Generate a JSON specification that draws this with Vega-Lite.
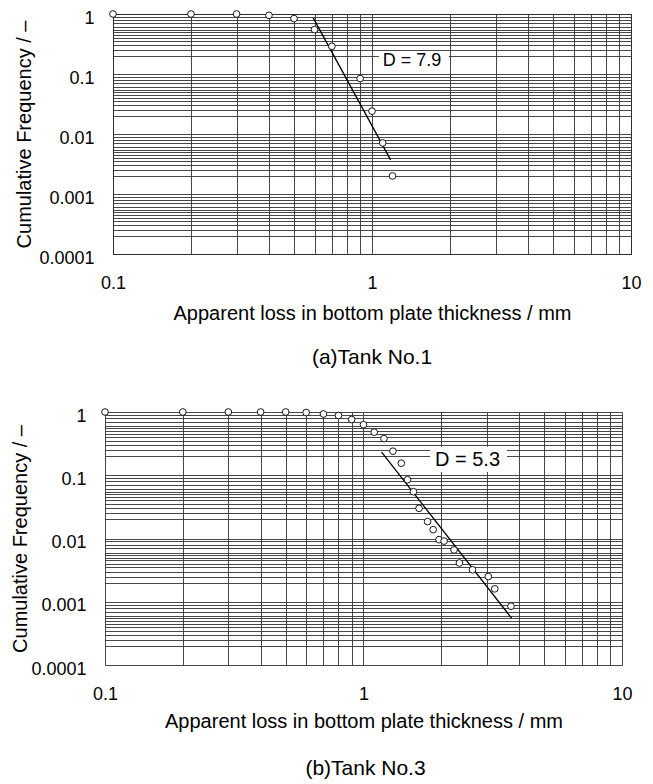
{
  "$schema": "https://vega.github.io/schema/vega-lite/v6.json",
  "padding": {"left": 10, "top": 8, "right": 5, "bottom": 5},
  "columns": 1,
  "spacing": 37,
  "config": {
    "font": "Liberation Sans",
    "view": {"stroke": "#000", "strokeWidth": 1},
    "axis": {
      "grid": true, "gridColor": "#333", "gridWidth": 0.9, "gridOpacity": 1,
      "domain": false, "ticks": false, "labelOverlap": false, "labelFlush": false,
      "labelFontSize": 18, "labelColor": "#000", "titleColor": "#000",
      "titleFontSize": 20, "titleFontWeight": "normal", "labelBound": false
    },
    "title": {"fontSize": 21, "fontWeight": "normal", "color": "#000"}
  },
  "datasets": {
    "pts1": [
      {"x": 0.1, "y": 1}, {"x": 0.2, "y": 1}, {"x": 0.3, "y": 1}, {"x": 0.4, "y": 0.95},
      {"x": 0.5, "y": 0.84}, {"x": 0.6, "y": 0.55}, {"x": 0.7, "y": 0.29}, {"x": 0.9, "y": 0.084},
      {"x": 1.0, "y": 0.024}, {"x": 1.1, "y": 0.0071}, {"x": 1.2, "y": 0.002}
    ],
    "fit1": [{"x": 0.593, "y": 0.86}, {"x": 1.18, "y": 0.0037}],
    "lab1": [{"x": 1.1, "y": 0.163, "text": "D = 7.9", "x2": 1.98, "y1": 0.239, "y2": 0.103, "x1": 1.064}],
    "pts2": [
      {"x": 0.1, "y": 1}, {"x": 0.2, "y": 1}, {"x": 0.3, "y": 1}, {"x": 0.4, "y": 1},
      {"x": 0.5, "y": 1}, {"x": 0.6, "y": 0.98}, {"x": 0.7, "y": 0.93}, {"x": 0.8, "y": 0.88},
      {"x": 0.9, "y": 0.76}, {"x": 1.0, "y": 0.63}, {"x": 1.1, "y": 0.48}, {"x": 1.2, "y": 0.38},
      {"x": 1.3, "y": 0.24}, {"x": 1.4, "y": 0.155}, {"x": 1.48, "y": 0.085}, {"x": 1.56, "y": 0.055},
      {"x": 1.64, "y": 0.03}, {"x": 1.77, "y": 0.0185}, {"x": 1.86, "y": 0.0138}, {"x": 1.96, "y": 0.0096},
      {"x": 2.05, "y": 0.0091}, {"x": 2.24, "y": 0.0066}, {"x": 2.35, "y": 0.0041}, {"x": 2.64, "y": 0.0032},
      {"x": 3.04, "y": 0.0025}, {"x": 3.22, "y": 0.0016}, {"x": 3.72, "y": 0.00085}
    ],
    "fit2": [{"x": 1.175, "y": 0.232}, {"x": 3.74, "y": 0.00055}],
    "lab2": [{"x": 1.89, "y": 0.177, "text": "D = 5.3", "x1": 1.81, "x2": 3.59, "y1": 0.282, "y2": 0.113}]
  },
  "concat": [
    {
      "width": 518, "height": 240,
      "title": {"text": "(a)Tank No.1", "orient": "bottom", "anchor": "middle", "offset": 24},
      "layer": [
        {
          "data": {"name": "lab1"},
          "mark": {"type": "rect", "fill": "white"},
          "encoding": {
            "x": {"field": "x1", "type": "quantitative",
              "scale": {"type": "log", "domain": [0.1, 10], "nice": false},
              "axis": {
                "values": [0.1,0.2,0.3,0.4,0.5,0.6,0.7,0.8,0.9,1,2,3,4,5,6,7,8,9,10],
                "labelExpr": "indexof([0.1,1,10], datum.value) >= 0 ? toString(datum.value) : ''",
                "labelPadding": 20, "title": "Apparent loss in bottom plate thickness / mm", "titlePadding": 11
              }},
            "x2": {"field": "x2"},
            "y": {"field": "y1", "type": "quantitative",
              "scale": {"type": "log", "domain": [0.0001, 1], "nice": false},
              "axis": {
                "values": [0.0001,0.0002,0.00025,0.0003,0.00035,0.0004,0.00045,0.0005,0.00055,0.0006,0.0007,0.0008,0.0009,
                           0.001,0.002,0.0025,0.003,0.0035,0.004,0.0045,0.005,0.0055,0.006,0.007,0.008,0.009,
                           0.01,0.02,0.025,0.03,0.035,0.04,0.045,0.05,0.055,0.06,0.07,0.08,0.09,
                           0.1,0.2,0.25,0.3,0.35,0.4,0.45,0.5,0.55,0.6,0.7,0.8,0.9,1],
                "labelExpr": "indexof([0.0001,0.001,0.01,0.1,1], datum.value) >= 0 ? toString(datum.value) : ''",
                "labelPadding": 19, "labelOffset": 4, "title": "Cumulative Frequency / –", "titlePadding": 4
              }},
            "y2": {"field": "y2"}
          }
        },
        {
          "data": {"name": "fit1"},
          "mark": {"type": "line", "color": "#000", "strokeWidth": 1.3},
          "encoding": {
            "x": {"field": "x", "type": "quantitative", "scale": {"type": "log", "domain": [0.1, 10], "nice": false}},
            "y": {"field": "y", "type": "quantitative", "scale": {"type": "log", "domain": [0.0001, 1], "nice": false}}
          }
        },
        {
          "data": {"name": "pts1"},
          "mark": {"type": "circle", "fill": "white", "stroke": "#000", "strokeWidth": 0.9, "size": 45, "opacity": 1},
          "encoding": {
            "x": {"field": "x", "type": "quantitative", "scale": {"type": "log", "domain": [0.1, 10], "nice": false}},
            "y": {"field": "y", "type": "quantitative", "scale": {"type": "log", "domain": [0.0001, 1], "nice": false}}
          }
        },
        {
          "data": {"name": "lab1"},
          "mark": {"type": "text", "align": "left", "baseline": "middle", "fontSize": 18, "color": "#000"},
          "encoding": {
            "x": {"field": "x", "type": "quantitative", "scale": {"type": "log", "domain": [0.1, 10], "nice": false}},
            "y": {"field": "y", "type": "quantitative", "scale": {"type": "log", "domain": [0.0001, 1], "nice": false}},
            "text": {"field": "text"}
          }
        }
      ]
    },
    {
      "width": 517, "height": 253,
      "view": {"stroke": null},
      "title": {"text": "(b)Tank No.3", "orient": "bottom", "anchor": "middle", "offset": 27, "dx": -6},
      "layer": [
        {
          "data": {"name": "lab2"},
          "mark": {"type": "rect", "fill": "white"},
          "encoding": {
            "x": {"field": "x1", "type": "quantitative",
              "scale": {"type": "log", "domain": [0.1, 10], "nice": false, "range": [-8, 509]},
              "axis": {
                "values": [0.1,0.2,0.3,0.4,0.5,0.6,0.7,0.8,0.9,1,2,3,4,5,6,7,8,9,10],
                "labelExpr": "indexof([0.1,1,10], datum.value) >= 0 ? toString(datum.value) : ''",
                "labelPadding": 20, "title": "Apparent loss in bottom plate thickness / mm", "titlePadding": 8
              }},
            "x2": {"field": "x2"},
            "y": {"field": "y1", "type": "quantitative",
              "scale": {"type": "log", "domain": [0.0001, 1], "nice": false},
              "axis": {
                "values": [0.0001,0.0002,0.00025,0.0003,0.00035,0.0004,0.00045,0.0005,0.00055,0.0006,0.0007,0.0008,0.0009,
                           0.001,0.002,0.0025,0.003,0.0035,0.004,0.0045,0.005,0.0055,0.006,0.007,0.008,0.009,
                           0.01,0.02,0.025,0.03,0.035,0.04,0.045,0.05,0.055,0.06,0.07,0.08,0.09,
                           0.1,0.2,0.25,0.3,0.35,0.4,0.45,0.5,0.55,0.6,0.7,0.8,0.9,1],
                "labelExpr": "indexof([0.0001,0.001,0.01,0.1,1], datum.value) >= 0 ? toString(datum.value) : ''",
                "labelPadding": 27, "labelOffset": 4, "title": "Cumulative Frequency / –", "titlePadding": 0
              }},
            "y2": {"field": "y2"}
          }
        },
        {
          "data": {"name": "fit2"},
          "mark": {"type": "line", "color": "#000", "strokeWidth": 1.3},
          "encoding": {
            "x": {"field": "x", "type": "quantitative", "scale": {"type": "log", "domain": [0.1, 10], "nice": false, "range": [-8, 509]}},
            "y": {"field": "y", "type": "quantitative", "scale": {"type": "log", "domain": [0.0001, 1], "nice": false}}
          }
        },
        {
          "data": {"name": "pts2"},
          "mark": {"type": "circle", "fill": "white", "stroke": "#000", "strokeWidth": 0.9, "size": 45, "opacity": 1},
          "encoding": {
            "x": {"field": "x", "type": "quantitative", "scale": {"type": "log", "domain": [0.1, 10], "nice": false, "range": [-8, 509]}},
            "y": {"field": "y", "type": "quantitative", "scale": {"type": "log", "domain": [0.0001, 1], "nice": false}}
          }
        },
        {
          "data": {"name": "lab2"},
          "mark": {"type": "text", "align": "left", "baseline": "middle", "fontSize": 20, "color": "#000"},
          "encoding": {
            "x": {"field": "x", "type": "quantitative", "scale": {"type": "log", "domain": [0.1, 10], "nice": false, "range": [-8, 509]}},
            "y": {"field": "y", "type": "quantitative", "scale": {"type": "log", "domain": [0.0001, 1], "nice": false}},
            "text": {"field": "text"}
          }
        }
      ]
    }
  ]
}
